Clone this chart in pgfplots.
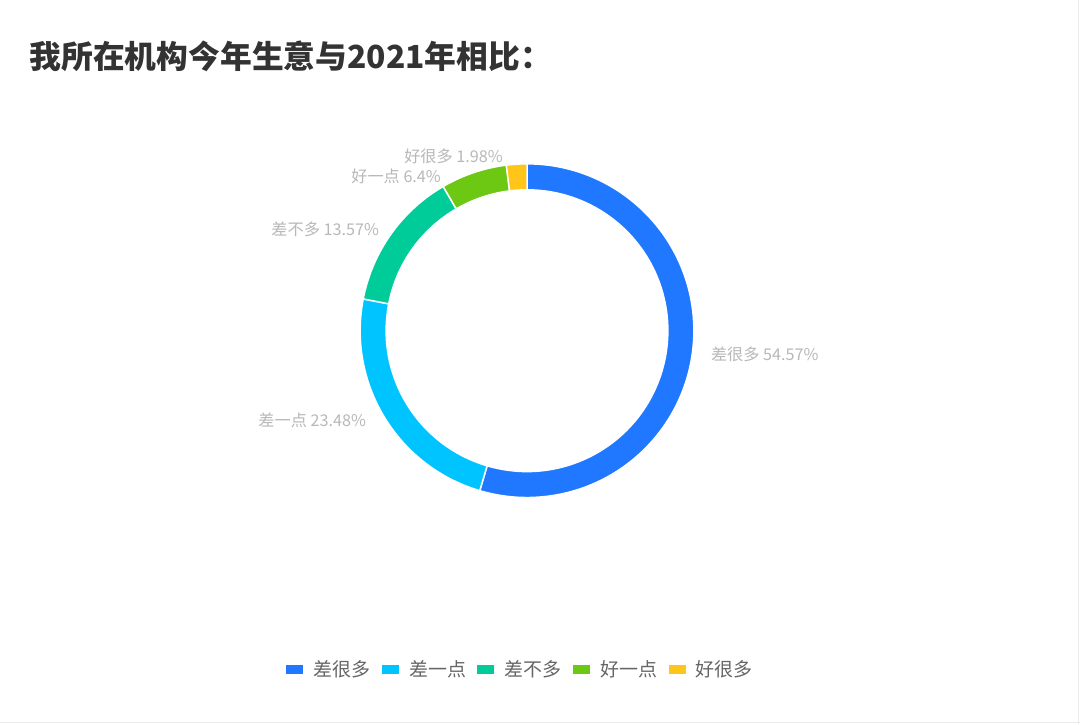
\documentclass[border=0pt]{standalone}
\usepackage{pgfplots}
\pgfplotsset{compat=1.18}
\usepackage{pgfplotstable}
\usepackage{fontspec}
\setmainfont{Noto Sans CJK SC}
\definecolor{c1}{HTML}{1F78FF}
\definecolor{c2}{HTML}{00C4FF}
\definecolor{c3}{HTML}{00CC99}
\definecolor{c4}{HTML}{6CC813}
\definecolor{c5}{HTML}{FFC619}
\definecolor{labelgray}{HTML}{B8B8B8}
\definecolor{legendgray}{HTML}{666666}
\definecolor{titlegray}{HTML}{333333}

\pgfplotstableread[col sep=comma,string type]{
name,pct,col,lx,ly,anc
差很多,54.57,c1,711,370,west
差一点,23.48,c2,366,304,east
差不多,13.57,c3,379,495,east
好一点,6.4,c4,441,548,east
好很多,1.98,c5,503,568,east
}\piedata

\begin{document}
\begin{tikzpicture}
\begin{axis}[
  hide axis, x=1bp, y=1bp, xmin=0, xmax=1080, ymin=0, ymax=724,
  disabledatascaling, clip=false, enlargelimits=false,
  legend columns=5,
  legend style={draw=none, fill=none, at={(0.481,0.076)}, anchor=center,
    font=\fontsize{19bp}{21bp}\selectfont, text=legendgray,
    /tikz/every odd column/.style={column sep=11bp},
    /tikz/every even column/.style={column sep=11.3bp},
    nodes={inner sep=0pt}},
]
\fill[white] (axis cs:0,0) rectangle (axis cs:1080,724);
\draw[black!8, line width=1bp] (axis cs:0,1.5) -- (axis cs:1080,1.5);
\draw[black!8, line width=1bp] (axis cs:1078.5,0) -- (axis cs:1078.5,724);
\node[anchor=west, inner sep=0pt, text=titlegray, font=\fontsize{31.8bp}{38bp}\selectfont\bfseries]
  at (axis cs:29,668) {我所在机构今年生意与2021年相比：};
\pgfplotsextra{%
  \gdef\angA{90}%
  \foreach \i in {0,...,4}{%
    \pgfplotstablegetelem{\i}{pct}\of\piedata \let\pp\pgfplotsretval
    \pgfplotstablegetelem{\i}{col}\of\piedata \let\scol\pgfplotsretval
    \pgfplotstablegetelem{\i}{name}\of\piedata \let\nm\pgfplotsretval
    \pgfplotstablegetelem{\i}{lx}\of\piedata \let\lx\pgfplotsretval
    \pgfplotstablegetelem{\i}{ly}\of\piedata \let\ly\pgfplotsretval
    \pgfplotstablegetelem{\i}{anc}\of\piedata \let\anc\pgfplotsretval
    \pgfmathsetmacro\angB{\angA-3.6*\pp}%
    \path[fill=\scol, draw=white, line width=1.5bp, line join=miter]
      (axis cs:527,393.5) ++(\angA:167bp)
      arc[start angle=\angA, end angle=\angB, radius=167bp]
      -- ++(\angB:-26bp)
      arc[start angle=\angB, end angle=\angA, radius=141bp] -- cycle;
    \node[anchor=\anc, inner sep=0pt, text=labelgray, font=\fontsize{16.2bp}{19bp}\selectfont]
      at (axis cs:\lx,\ly) {\nm\ \pp\%};
    \xdef\angA{\angB}%
  }%
}
\addlegendimage{legend image code/.code={\fill[c1] (0bp,-4bp) rectangle (16bp,4bp);}}
\addlegendentry{差很多}
\addlegendimage{legend image code/.code={\fill[c2] (0bp,-4bp) rectangle (16bp,4bp);}}
\addlegendentry{差一点}
\addlegendimage{legend image code/.code={\fill[c3] (0bp,-4bp) rectangle (16bp,4bp);}}
\addlegendentry{差不多}
\addlegendimage{legend image code/.code={\fill[c4] (0bp,-4bp) rectangle (16bp,4bp);}}
\addlegendentry{好一点}
\addlegendimage{legend image code/.code={\fill[c5] (0bp,-4bp) rectangle (16bp,4bp);}}
\addlegendentry{好很多}
\end{axis}
\end{tikzpicture}
\end{document}
